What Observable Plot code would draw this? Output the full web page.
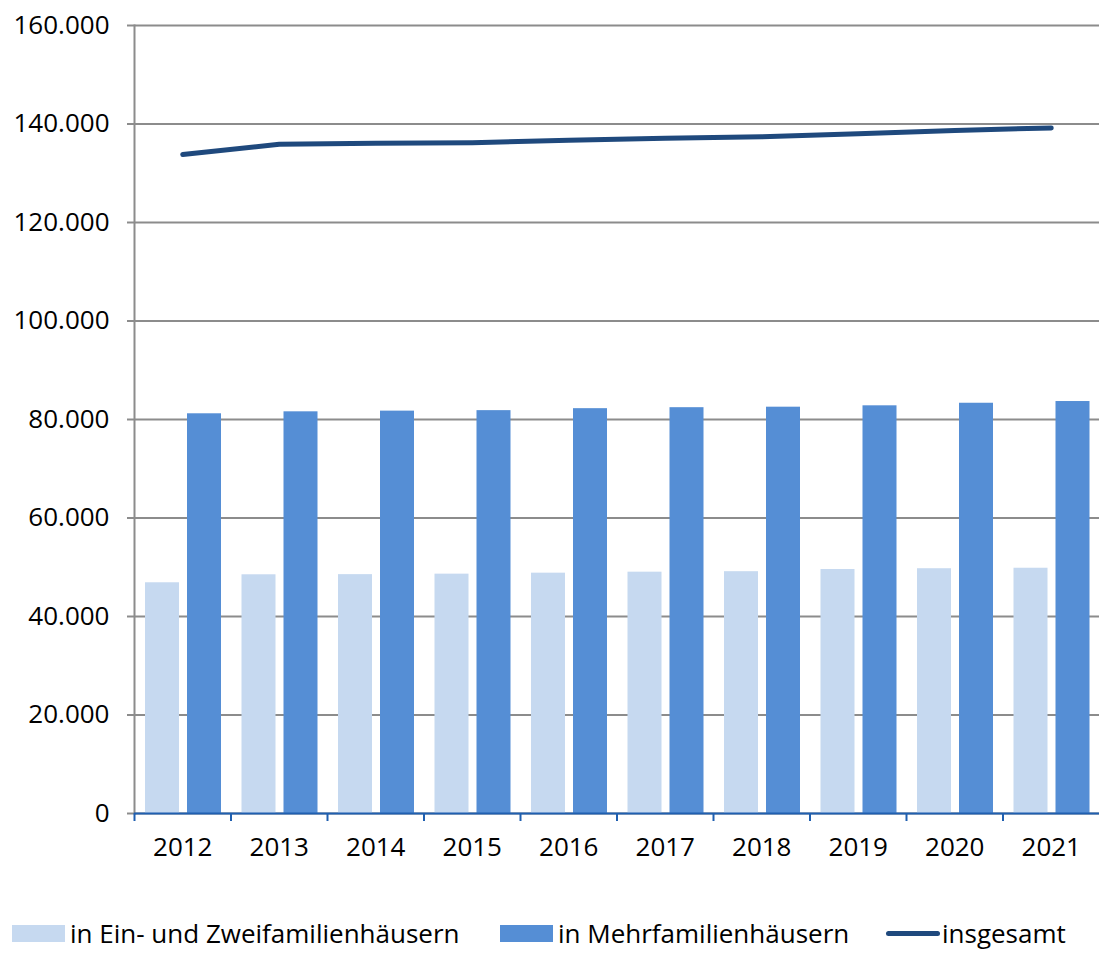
<!DOCTYPE html>
<html>
<head>
<meta charset="utf-8">
<script src="https://cdn.jsdelivr.net/npm/d3@7"></script>
<script src="https://cdn.jsdelivr.net/npm/@observablehq/plot@0.6"></script>
<style>
  html, body { margin: 0; padding: 0; background: #fff; }
  body { width: 1099px; height: 955px; overflow: hidden; font-family: "Open Sans", sans-serif; }
  #legend { position: relative; height: 50px; font-size: 26px; color: #000; }
  .item { position: absolute; top: 13px; display: flex; align-items: center; height: 30px; }
  .sw { width: 53px; height: 17px; margin-right: 5px; }
  .ln { width: 54px; height: 5px; border-radius: 3px; margin-right: 2px; }
</style>
</head>
<body>
<div id="chart"></div>
<div id="legend"></div>
<script>
const years = ["2012","2013","2014","2015","2016","2017","2018","2019","2020","2021"];
const einZwei = [46850, 48470, 48500, 48600, 48800, 49000, 49100, 49540, 49700, 49800];
const mehr = [81160, 81560, 81700, 81800, 82200, 82400, 82500, 82780, 83300, 83650];
const insgesamt = [133800, 135900, 136100, 136200, 136700, 137100, 137400, 138000, 138700, 139200];
const yTicks = [0, 20000, 40000, 60000, 80000, 100000, 120000, 140000, 160000];
const seriesNames = ["in Ein- und Zweifamilienhäusern", "in Mehrfamilienhäusern", "insgesamt"];
const colors = ["#c6d9f0", "#558ed5", "#1f497d"];

const rowsA = years.map((y, i) => ({year: y, value: einZwei[i]}));
const rowsB = years.map((y, i) => ({year: y, value: mehr[i]}));
const rowsT = years.map((y, i) => ({year: y, value: insgesamt[i]}));

const fmt = d => d3.format(",")(d).replace(/,/g, ".");
const half = (1099 - 134) / years.length / 2;

const chart = Plot.plot({
  width: 1099,
  height: 905,
  marginLeft: 134,
  marginRight: 0,
  marginTop: 25,
  marginBottom: 92,
  style: {fontFamily: "'Open Sans', sans-serif", fontSize: "26px", color: "#000", background: "#fff"},
  x: {type: "band", domain: years, padding: 0, round: false, label: null},
  y: {domain: [0, 160000], label: null},
  marks: [
    Plot.gridY(yTicks, {stroke: "#8c8c8c", strokeOpacity: 1, strokeWidth: 2}),
    Plot.axisY({ticks: yTicks, tickFormat: fmt, tickSize: 7, tickPadding: 18, stroke: "#8c8c8c", strokeWidth: 2, label: null, fill: "#000"}),
    Plot.frame({anchor: "left", stroke: "#8c8c8c", strokeWidth: 2}),
    Plot.barY(rowsA, {x: "year", y: "value", fill: colors[0], insetLeft: 11, insetRight: 51.5}),
    Plot.barY(rowsB, {x: "year", y: "value", fill: colors[1], insetLeft: 53, insetRight: 9.5}),
    Plot.lineY(rowsT, {x: "year", y: "value", stroke: colors[2], strokeWidth: 5, strokeLinecap: "round"}),
    Plot.ruleY([0], {stroke: "#1f5fb0", strokeWidth: 2}),
    Plot.axisX({tickSize: 8, dx: -half, text: null, stroke: "#1f5fb0", strokeWidth: 2}),
    Plot.axisX({tickSize: 0, tickPadding: 24, label: null, fill: "#000"})
  ]
});
document.getElementById("chart").appendChild(chart);

const legend = document.getElementById("legend");
const lefts = [12, 500, 886];
seriesNames.forEach((name, i) => {
  const item = document.createElement("div");
  item.className = "item";
  item.style.left = lefts[i] + "px";
  const sw = document.createElement("div");
  sw.className = i < 2 ? "sw" : "ln";
  sw.style.background = colors[i];
  const t = document.createElement("span");
  t.textContent = name;
  item.appendChild(sw);
  item.appendChild(t);
  legend.appendChild(item);
});
</script>
</body>
</html>
